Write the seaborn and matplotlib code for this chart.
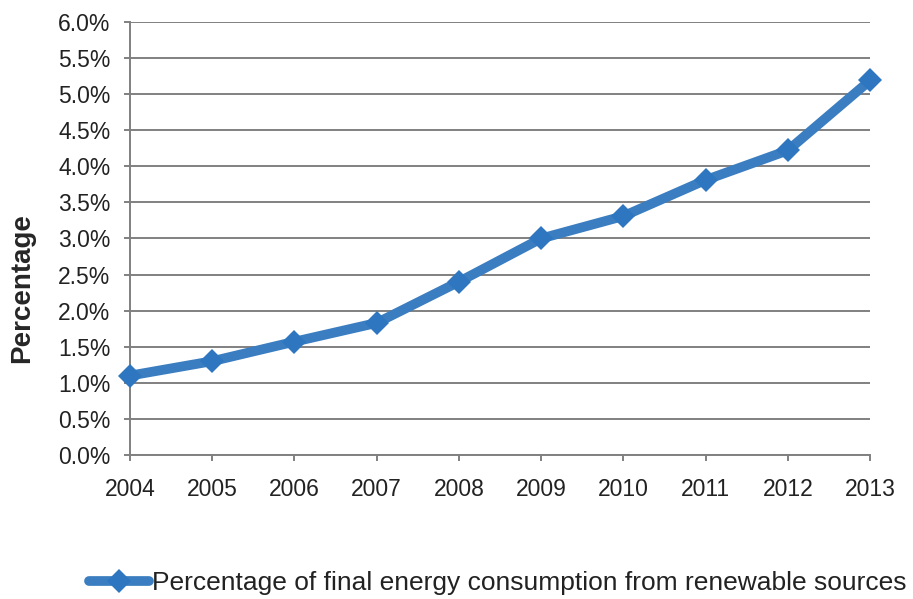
import pandas as pd
import matplotlib
matplotlib.use("Agg")
import matplotlib.pyplot as plt
import seaborn as sns
from matplotlib.ticker import PercentFormatter, MultipleLocator

years = [2004, 2005, 2006, 2007, 2008, 2009, 2010, 2011, 2012, 2013]
share = [1.1, 1.3, 1.57, 1.83, 2.4, 3.0, 3.31, 3.81, 4.22, 5.19]
series_name = "Percentage of final energy consumption from renewable sources"

df = pd.DataFrame({"Year": years, "Share": share})

sns.set_style("white")
plt.rcParams["font.family"] = ["Liberation Sans", "DejaVu Sans"]

fig, ax = plt.subplots(figsize=(9.13, 5.99), dpi=100)
fig.subplots_adjust(left=0.1424, right=0.9529, top=0.9633, bottom=0.2404)

sns.lineplot(data=df, x="Year", y="Share", ax=ax, color="#3a7dc0",
             linewidth=7, marker="D", markersize=12.5,
             markeredgewidth=0, markerfacecolor="#2e77c0",
             label=series_name, zorder=5, clip_on=False)

ax.set_xlim(2004, 2013)
ax.set_ylim(0, 6)
ax.set_xticks(years)
ax.yaxis.set_major_locator(MultipleLocator(0.5))
ax.yaxis.set_major_formatter(PercentFormatter(decimals=1))
ax.grid(axis="y", color="#808080", linewidth=1.4)
ax.set_axisbelow(True)

for side in ["top", "right"]:
    ax.spines[side].set_visible(False)
for side in ["left", "bottom"]:
    ax.spines[side].set_color("#808080")
    ax.spines[side].set_linewidth(1.4)

ax.tick_params(axis="both", which="major", direction="out", length=4.5,
               width=1.4, color="#808080", labelsize=16.5,
               labelcolor="#222222", left=True, bottom=True)
ax.tick_params(axis="y", pad=9.5)
ax.tick_params(axis="x", pad=12)

ax.set_xlabel("")
ax.set_ylabel("Percentage", fontsize=20, fontweight="bold")
ax.yaxis.set_label_coords(-0.128, 0.386)

ax.get_legend().remove()
handles, labels = ax.get_legend_handles_labels()
fig.legend(handles, labels, loc="center", bbox_to_anchor=(0.545, 0.027),
           frameon=False, fontsize=19, handlelength=2.3, handletextpad=0.1,
           labelcolor="#222222")

plt.savefig("out.png", dpi=100)
